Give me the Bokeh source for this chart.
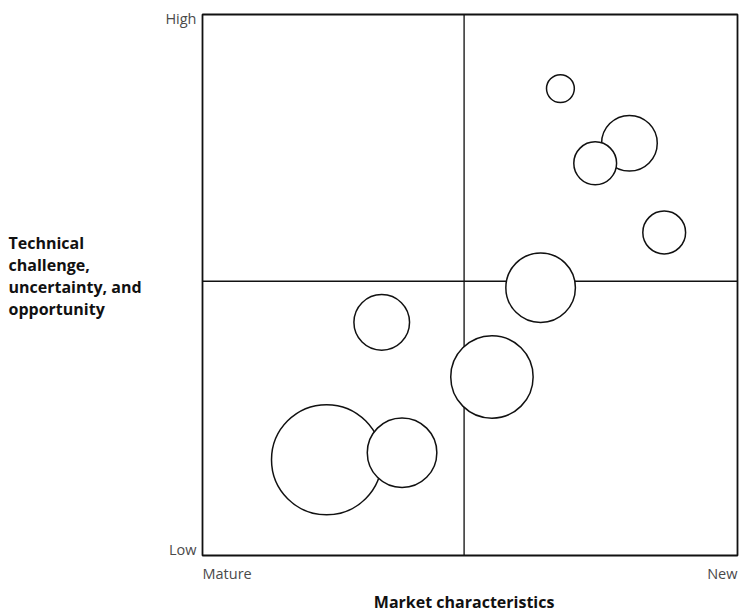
from bokeh.plotting import figure
from bokeh.models import Range1d
from bokeh.core.properties import value
from bokeh.embed import file_html
from bokeh.resources import INLINE

# ---- data (0-100 scale on both axes) ----
bubble_x = [66.9, 79.8, 73.4, 86.3, 63.2, 33.5, 54.1, 23.2, 37.3]
bubble_y = [86.3, 76.2, 72.5, 59.7, 49.5, 43.1, 33.0, 17.7, 19.0]
bubble_r = [2.6, 5.2, 4.0, 4.0, 6.5, 5.2, 7.7, 10.3, 6.5]
x_mid = 48.9
y_mid = 50.7
x_tick_labels = ["Mature", "New"]
y_tick_labels = ["Low", "High"]
x_title = "Market characteristics"
y_title = "Technical\nchallenge,\nuncertainty, and\nopportunity"

FONT = "Open Sans"
W, H = 741, 611
# chart box occupies page pixels x 202..737, y 14..555
PX_X = 535 / 100.0
PX_Y = 541 / 100.0
def dx(px):
    return px / PX_X
def dy(px):
    return px / PX_Y

p = figure(width=W, height=H, output_backend="svg", toolbar_location=None,
           x_range=Range1d(0 - dx(202), 100 + dx(W - 737)),
           y_range=Range1d(0 - dy(H - 555), 100 + dy(14)),
           min_border=0)
p.axis.visible = False
p.grid.visible = False
p.outline_line_color = None
p.background_fill_color = "white"
p.border_fill_color = "white"

# quadrant lines
p.segment(x0=[x_mid, 0], y0=[0, y_mid], x1=[x_mid, 100], y1=[100, y_mid],
          line_color=["#3a3a3a", "#111111"], line_width=1.6)

# bubbles
p.circle(x=bubble_x, y=bubble_y, radius=bubble_r, radius_dimension="x",
         fill_color="white", line_color="#111111", line_width=1.5)

# chart box
p.quad(left=[0], right=[100], bottom=[0], top=[100], fill_color=None,
       line_color="#111111", line_width=1.8)

# tick labels
LBL = dict(text_font=value(FONT), text_font_size="14.5px", text_color="#4a4a4a",
           text_baseline="middle")
p.text(x=[0 - dx(6), 0 - dx(6)], y=[0 + dy(6), 100 - dy(4)], text=y_tick_labels,
       text_align="right", **LBL)
p.text(x=[0], y=[0 - dy(18)], text=[x_tick_labels[0]], text_align="left", **LBL)
p.text(x=[100], y=[0 - dy(18)], text=[x_tick_labels[1]], text_align="right", **LBL)

# axis titles
TIT = dict(text_font=value(FONT), text_font_size="16px", text_font_style="bold",
           text_color="#111111", text_baseline="middle")
p.text(x=[x_mid], y=[0 - dy(46)], text=[x_title], text_align="center", **TIT)
p.text(x=[0 - dx(194)], y=[51.6], text=[y_title], text_align="left",
       text_line_height=1.0, **TIT)

open("out.html", "w").write(file_html(p, INLINE))
